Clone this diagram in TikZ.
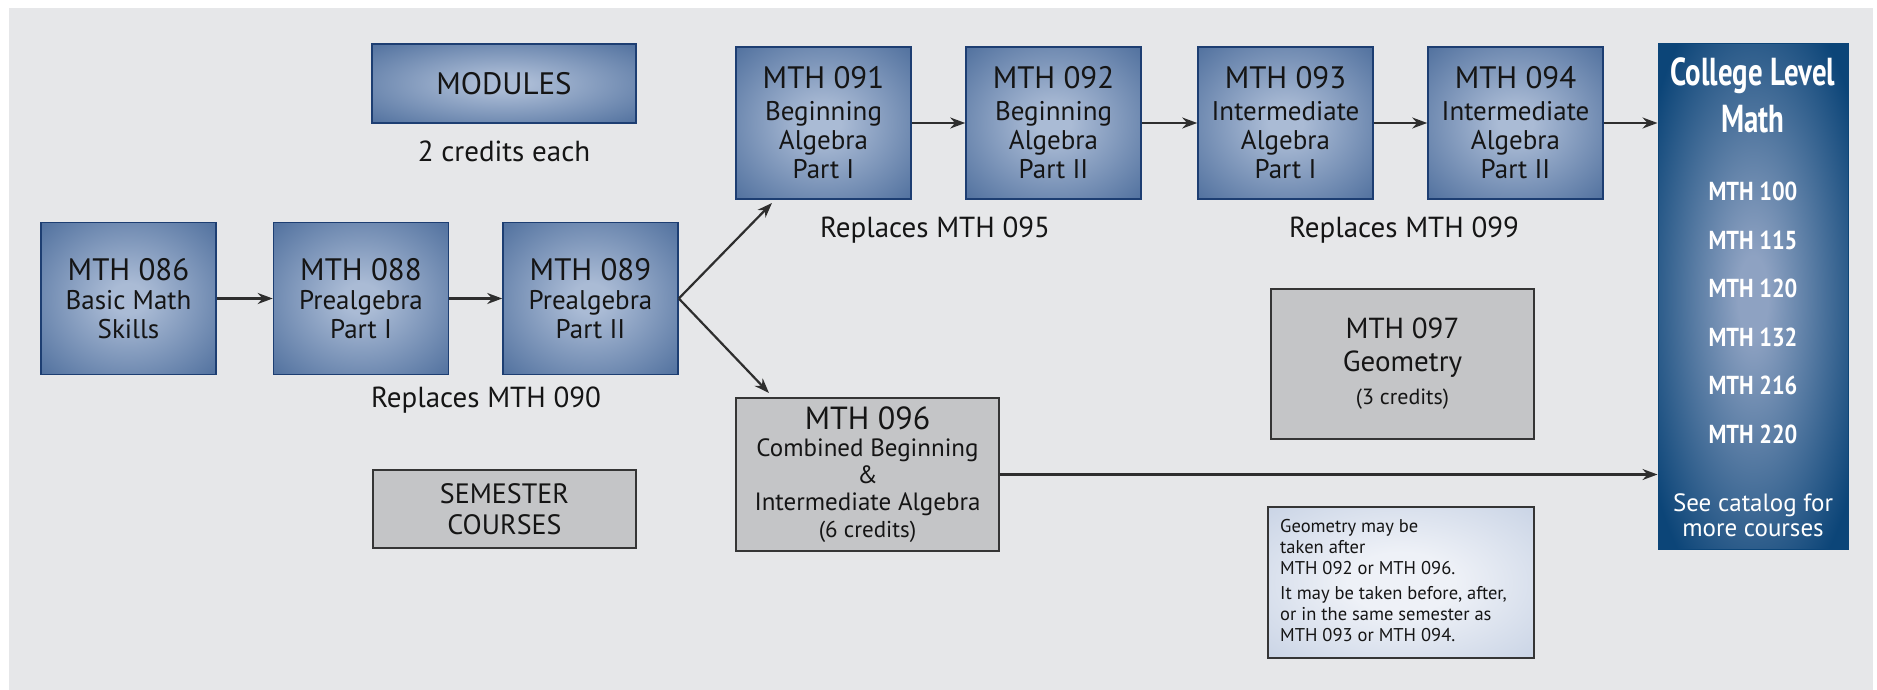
\documentclass[tikz,border=0pt]{standalone}
\usepackage{fontspec}
\setmainfont{PT Sans}
\newfontfamily\condbold{PT Sans Bold}[FakeStretch=0.74]
\newfontfamily\condmed{PT Sans Bold}[FakeStretch=0.86]
\usetikzlibrary{arrows.meta}
\definecolor{bgc}{HTML}{E6E7E9}
\definecolor{bluein}{HTML}{AABBD5}
\definecolor{blueout}{HTML}{4A6B9A}
\definecolor{blueline}{HTML}{1D3E72}
\definecolor{navyin}{HTML}{8EA2C2}
\definecolor{navyout}{HTML}{0C4578}
\definecolor{grayfill}{HTML}{C4C5C7}
\definecolor{grayline}{HTML}{353535}
\definecolor{notein}{HTML}{EEF1F7}
\definecolor{noteout}{HTML}{AEBED8}
\definecolor{arrc}{HTML}{2E2E2E}
\definecolor{txt}{HTML}{151515}
\pgfdeclareradialshading{blueshade}{\pgfpoint{0bp}{0bp}}{color(0bp)=(bluein); color(5bp)=(bluein); color(38bp)=(blueout); color(90bp)=(blueout)}
\pgfdeclareradialshading{navyshade}{\pgfpoint{0bp}{0bp}}{color(0bp)=(navyin); color(4bp)=(navyin); color(32bp)=(navyout); color(90bp)=(navyout)}
\pgfdeclareradialshading{noteshade}{\pgfpoint{0bp}{0bp}}{color(0bp)=(notein); color(10bp)=(notein); color(55bp)=(noteout); color(90bp)=(noteout)}
\newcommand{\ttlfont}{\fontsize{31}{31}\selectfont}
\begin{document}
\begin{tikzpicture}[x=1pt,y=-1pt,
  bluebox/.style={draw=blueline, line width=1.6pt, shading=blueshade, minimum width=175pt, minimum height=152pt, inner sep=0pt, align=center, text=txt, font=\fontsize{27}{29}\selectfont},
  graybox/.style={draw=grayline, line width=1.6pt, fill=grayfill, inner sep=0pt, align=center, text=txt},
  lbl/.style={inner sep=0pt, text=txt, font=\fontsize{29}{31}\selectfont},
  cltext/.style={inner sep=0pt, anchor=base, text=white, font=\condmed\fontsize{26}{27}\selectfont},
  cltitle/.style={inner sep=0pt, anchor=base, text=white, font=\condbold\fontsize{39}{40}\selectfont},
  arr/.style={-{Stealth[length=15pt,width=11pt]}, line width=2.2pt, draw=arrc}]
\fill[white] (0,0) rectangle (1877,690);
\fill[bgc] (9,8) rectangle (1873,690);
\useasboundingbox (0,0) rectangle (1877,690);

% legend
\node[bluebox, minimum width=264pt, minimum height=79pt, font=\fontsize{31}{32}\selectfont] (modules) at (504,83.5) {MODULES};
\node[lbl] (credits) at (504,151) {2 credits each};
\node[graybox, minimum width=263pt, minimum height=78pt, font=\fontsize{28}{31}\selectfont] (semester) at (504.5,509) {SEMESTER\\COURSES};

% module chain 1
\node[bluebox] (m086) at (128.5,298.5) {{\ttlfont MTH 086}\\Basic Math\\Skills};
\node[bluebox] (m088) at (361,298.5) {{\ttlfont MTH 088}\\Prealgebra\\Part I};
\node[bluebox] (m089) at (590.5,298.5) {{\ttlfont MTH 089}\\Prealgebra\\Part II};
\node[lbl] (rep090) at (486,400) {Replaces MTH 090};

% module chain 2
\node[bluebox] (m091) at (823.5,123) {{\ttlfont MTH 091}\\[3pt]Beginning\\Algebra\\Part I};
\node[bluebox] (m092) at (1053.5,123) {{\ttlfont MTH 092}\\[3pt]Beginning\\Algebra\\Part II};
\node[bluebox] (m093) at (1285.5,123) {{\ttlfont MTH 093}\\[3pt]Intermediate\\Algebra\\Part I};
\node[bluebox] (m094) at (1515.5,123) {{\ttlfont MTH 094}\\[3pt]Intermediate\\Algebra\\Part II};
\node[lbl] (rep095) at (935,230) {Replaces MTH 095};
\node[lbl] (rep099) at (1404,230) {Replaces MTH 099};

% semester courses
\node[graybox, minimum width=263pt, minimum height=153pt, font=\fontsize{25}{27}\selectfont] (m096) at (867.5,474.5) {{\fontsize{32}{32}\selectfont MTH 096}\\Combined Beginning\\\&\\Intermediate Algebra\\{\fontsize{23}{25}\selectfont (6 credits)}};
\node[graybox, minimum width=263pt, minimum height=150pt, font=\fontsize{29}{33}\selectfont] (m097) at (1402.5,364) {MTH 097\\Geometry\\{\fontsize{22}{24}\selectfont (3 credits)}};

% note
\node[draw=grayline, line width=1.6pt, shading=noteshade, minimum width=266pt, minimum height=151pt, inner sep=0pt] (note) at (1401,582.5) {};
\node[anchor=north west, inner sep=0pt, align=left, text=txt, font=\fontsize{18.5}{21}\selectfont] (notetext) at (1280,519) {Geometry may be\\taken after\\MTH 092 or MTH 096.\\[4pt]It may be taken before, after,\\or in the same semester as\\MTH 093 or MTH 094.};

% college level
\node[draw=navyout, line width=1pt, shading=navyshade, minimum width=190pt, minimum height=505pt, inner sep=0pt] (cl) at (1753,296.5) {};
\node[cltitle] (clt1) at (1753,86) {College Level};
\node[cltitle] (clt2) at (1753,133) {Math};
\node[cltext] (c100) at (1753,200.5) {MTH 100};
\node[cltext] (c115) at (1753,249) {MTH 115};
\node[cltext] (c120) at (1753,297.5) {MTH 120};
\node[cltext] (c132) at (1753,346) {MTH 132};
\node[cltext] (c216) at (1753,394.5) {MTH 216};
\node[cltext] (c220) at (1753,443.5) {MTH 220};
\node[cltext, font=\fontsize{25}{26}\selectfont] (see1) at (1753,511) {See catalog for};
\node[cltext, font=\fontsize{25}{26}\selectfont] (see2) at (1753,536) {more courses};

% connectors
\coordinate (up) at (772,203);
\coordinate (dn) at (769,393);
\draw[arr] (m086) -- (m088);
\draw[arr] (m088) -- (m089);
\draw[arr] (m089.east) -- (up);
\draw[arr] (m089.east) -- (dn);
\draw[arr] (m091) -- (m092);
\draw[arr] (m092) -- (m093);
\draw[arr] (m093) -- (m094);
\draw[arr] (m094.east) -- (m094.east -| cl.west);
\draw[arr] (m096.east) -- (m096.east -| cl.west);
\end{tikzpicture}
\end{document}
